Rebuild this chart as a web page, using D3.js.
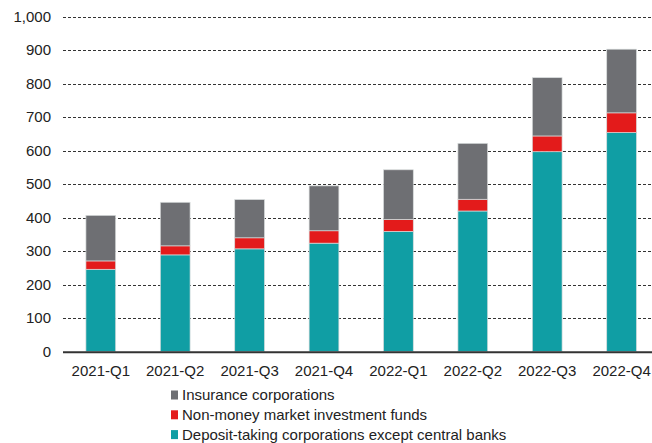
<!DOCTYPE html>
<html>
<head>
<meta charset="utf-8">
<script src="https://cdn.jsdelivr.net/npm/d3@7"></script>
<style>
  body { margin: 0; background: #fff; }
  svg { font-family: "Liberation Sans", Arial, sans-serif; }
</style>
</head>
<body>
<div id="chart"></div>
<script>
const quarters = ["2021-Q1", "2021-Q2", "2021-Q3", "2021-Q4", "2022-Q1", "2022-Q2", "2022-Q3", "2022-Q4"];
const deposit = [246, 289, 307, 324, 359, 420, 597, 654];
const nonMoney = [25, 27, 33, 37, 36, 35, 47, 59];
const insurance = [136, 130, 114, 134, 148, 167, 174, 190];
const seriesNames = ["Deposit-taking corporations except central banks", "Non-money market investment funds", "Insurance corporations"];
const yTicks = [0, 100, 200, 300, 400, 500, 600, 700, 800, 900, 1000];

const colors = ["#109ea4", "#e31b1b", "#6e6f73"];

const width = 652, height = 443;
const svg = d3.select("#chart")
  .append("svg")
    .attr("width", width)
    .attr("height", height);

// build rows for the stack
const rows = quarters.map((q, i) => ({q: q, s0: deposit[i], s1: nonMoney[i], s2: insurance[i]}));
const stacked = d3.stack().keys(["s0", "s1", "s2"])(rows);

const x = d3.scaleBand()
  .domain(quarters)
  .range([63.6, 658.8])
  .paddingInner(0.6)
  .paddingOuter(0.3);

const y = d3.scaleLinear()
  .domain([0, 1000])
  .range([351.7, 16.7]);

// gridlines
svg.append("g")
  .selectAll("line")
  .data(yTicks.filter(d => d > 0))
  .join("line")
    .attr("x1", 63)
    .attr("x2", width)
    .attr("y1", d => Math.round(y(d)) + 0.5)
    .attr("y2", d => Math.round(y(d)) + 0.5)
    .attr("stroke", "#333")
    .attr("stroke-width", 1)
    .attr("stroke-dasharray", "3,2");

// y labels
svg.append("g")
  .selectAll("text")
  .data(yTicks)
  .join("text")
    .attr("x", 51)
    .attr("y", d => y(d))
    .attr("dy", "0.35em")
    .attr("text-anchor", "end")
    .attr("font-size", 15)
    .attr("fill", "#222")
    .text(d => d3.format(",")(d));

// bars
svg.append("g")
  .selectAll("g")
  .data(stacked)
  .join("g")
    .attr("fill", (d, i) => colors[i])
  .selectAll("rect")
  .data(d => d)
  .join("rect")
    .attr("x", d => x(d.data.q))
    .attr("y", d => y(d[1]))
    .attr("width", x.bandwidth())
    .attr("height", d => y(d[0]) - y(d[1]))
    .attr("stroke", "#d8dcdc")
    .attr("stroke-width", 0.7);

// baseline
svg.append("line")
  .attr("x1", 63)
  .attr("x2", width)
  .attr("y1", y(0) + 0.5)
  .attr("y2", y(0) + 0.5)
  .attr("stroke", "#333")
  .attr("stroke-width", 2);

// x labels
svg.append("g")
  .selectAll("text")
  .data(quarters)
  .join("text")
    .attr("x", d => x(d) + x.bandwidth() / 2)
    .attr("y", 375.5)
    .attr("text-anchor", "middle")
    .attr("font-size", 15)
    .attr("fill", "#222")
    .text(d => d);

// legend (insurance on top)
const legendOrder = [2, 1, 0];
const legend = svg.append("g")
  .selectAll("g")
  .data(legendOrder)
  .join("g")
    .attr("transform", (d, i) => `translate(171, ${395 + i * 19.8})`);

legend.append("rect")
  .attr("x", 0)
  .attr("y", -4.5)
  .attr("width", 7)
  .attr("height", 9)
  .attr("fill", d => colors[d]);

legend.append("text")
  .attr("x", 11)
  .attr("y", 0)
  .attr("dy", "0.35em")
  .attr("font-size", 15)
  .attr("fill", "#222")
  .text(d => seriesNames[d]);
</script>
</body>
</html>
